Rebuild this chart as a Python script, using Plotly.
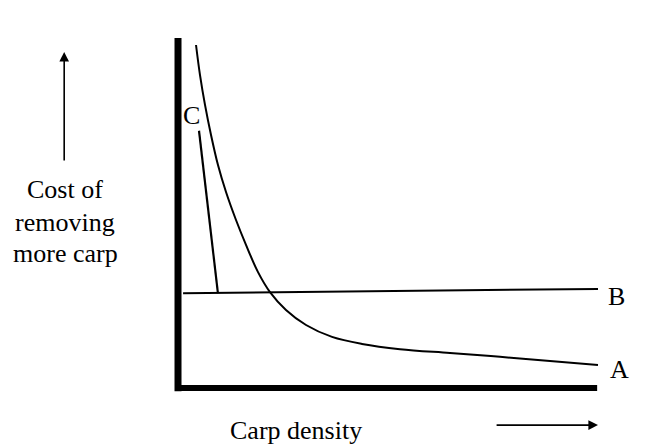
import plotly.graph_objects as go

# schematic: cost of removing carp vs carp density (units are arbitrary 0-10)
curve_a_x = [0.429, 0.524, 0.643, 0.786, 0.952, 1.143, 1.381, 1.619, 1.905, 2.190,
             2.571, 3.048, 3.667, 4.381, 5.286, 6.476, 7.667, 8.857, 10.0]
curve_a_y = [9.80, 8.94, 8.09, 7.23, 6.37, 5.60, 4.80, 4.09, 3.31, 2.74,
             2.23, 1.80, 1.46, 1.26, 1.11, 1.00, 0.89, 0.77, 0.66]

line_b_x = [0.12, 10.0]
line_b_y = [2.71, 2.83]

line_c_x = [0.50, 0.95]
line_c_y = [7.35, 2.71]

axis_x = [-0.07, 9.98]
axis_y = [10.0, -0.09]

FONT = "Liberation Serif"

fig = go.Figure()

# thick axes
fig.add_trace(go.Scatter(x=[0, 0], y=axis_y, mode="lines",
                         line=dict(color="black", width=7)))
fig.add_trace(go.Scatter(x=axis_x, y=[0, 0], mode="lines",
                         line=dict(color="black", width=6)))

fig.add_trace(go.Scatter(x=curve_a_x, y=curve_a_y, mode="lines",
                         line=dict(color="black", width=2, shape="spline")))
fig.add_trace(go.Scatter(x=line_b_x, y=line_b_y, mode="lines",
                         line=dict(color="black", width=2)))
fig.add_trace(go.Scatter(x=line_c_x, y=line_c_y, mode="lines",
                         line=dict(color="black", width=2.2)))

def label(x, y, text, size=26, **kw):
    fig.add_annotation(x=x, y=y, text=text, showarrow=False,
                       font=dict(family=FONT, size=size, color="black"), **kw)

label(10.45, 2.62, "B")
label(10.52, 0.52, "A")
label(0.33, 7.80, "C")
label(-2.69, 5.66, "Cost of")
label(-2.69, 4.74, "removing")
label(-2.69, 3.83, "more carp")
label(2.81, -1.2, "Carp density")

# direction arrows
fig.add_annotation(x=-2.71, y=9.6, ax=-2.71, ay=6.46, xref="x", yref="y",
                   axref="x", ayref="y", text="", showarrow=True,
                   arrowhead=2, arrowsize=1.2, arrowwidth=1.6, arrowcolor="black")
fig.add_annotation(x=10.0, y=-1.06, ax=7.55, ay=-1.06, xref="x", yref="y",
                   axref="x", ayref="y", text="", showarrow=True,
                   arrowhead=2, arrowsize=1.2, arrowwidth=1.6, arrowcolor="black")

# ranges offset by the 8px page margin so the drawing lands where the reference has it
fig.update_layout(
    width=671, height=448,
    margin=dict(l=0, r=0, t=0, b=0),
    plot_bgcolor="white", paper_bgcolor="white",
    showlegend=False,
    xaxis=dict(range=[-4.048, 11.929], visible=False),
    yaxis=dict(range=[-1.943, 10.857], visible=False),
)

fig.write_html("out.html")
